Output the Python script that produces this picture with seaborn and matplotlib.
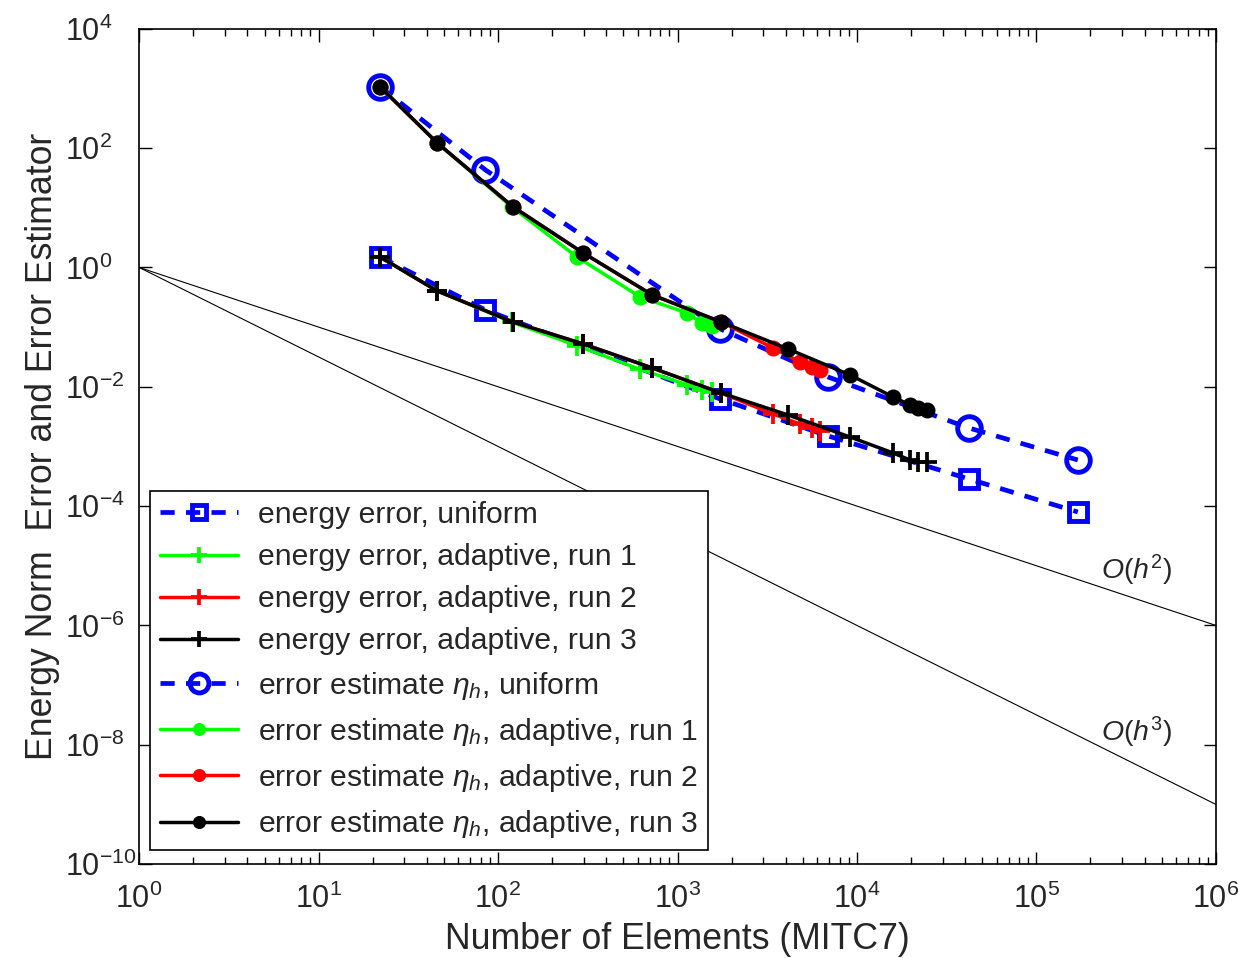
import numpy as np
import matplotlib
matplotlib.use("Agg")
import matplotlib.pyplot as plt
import seaborn as sns
from matplotlib.ticker import FixedLocator, FuncFormatter, NullFormatter

# ---------------- data ----------------
uni_x = [22, 85, 1726, 6890, 42000, 170000]
uni_err = [1.5, 0.194, 0.00625, 0.0015, 2.85e-4, 7.97e-5]
uni_est = [1066, 43.2, 0.0933, 0.0146, 0.00204, 5.93e-4]

run1_x = [22, 45.7, 120, 275, 620, 1130, 1370, 1560]
run1_err = [1.5, 0.405, 0.12, 0.049, 0.0195, 0.0108, 0.0088, 0.0081]
run1_est = [1066, 123, 10.2, 1.5, 0.32, 0.173, 0.117, 0.104]

run2_x = [22, 45.7, 121, 298, 722, 1746, 3405, 4810, 5615, 6220]
run2_err = [1.5, 0.405, 0.122, 0.0523, 0.0207, 0.00788, 0.0035, 0.00238, 0.00204, 0.00182]
run2_est = [1066, 123, 10.4, 1.75, 0.347, 0.122, 0.0448, 0.026, 0.0215, 0.0192]

run3_x = [22, 45.7, 121, 298, 722, 1746, 4126, 9140, 15870, 19720, 21870, 24530]
run3_err = [1.5, 0.405, 0.122, 0.0523, 0.0207, 0.00788, 0.00337, 0.00144, 7.78e-4, 5.93e-4, 5.49e-4, 5.4e-4]
run3_est = [1066, 123, 10.4, 1.75, 0.347, 0.122, 0.043, 0.0158, 0.00676, 0.00496, 0.00442, 0.00409]

ref_x = [1, 1e6]
ref_h2 = [1, 1e-6]
ref_h3 = [1, 1e-9]

x_ticks = [1, 10, 100, 1e3, 1e4, 1e5, 1e6]
y_ticks = [1e-10, 1e-8, 1e-6, 1e-4, 1e-2, 1, 1e2, 1e4]

labels = [
    "energy error, uniform",
    "energy error, adaptive, run 1",
    "energy error, adaptive, run 2",
    "energy error, adaptive, run 3",
    r"error estimate $\eta_h$, uniform",
    r"error estimate $\eta_h$, adaptive, run 1",
    r"error estimate $\eta_h$, adaptive, run 2",
    r"error estimate $\eta_h$, adaptive, run 3",
]

# ---------------- style ----------------
sns.set_style("white")
plt.rcParams["font.family"] = ["Liberation Sans", "DejaVu Sans"]
plt.rcParams["mathtext.fontset"] = "custom"
plt.rcParams["mathtext.rm"] = "Liberation Sans"
plt.rcParams["mathtext.it"] = "Liberation Sans:italic"
plt.rcParams["mathtext.bf"] = "Liberation Sans:bold"

fig = plt.figure(figsize=(12.42, 9.58), dpi=100)
ax = fig.add_axes([0.112, 0.098, 0.867, 0.872])

blue = "#0000ff"
green = "#00ff00"
red = "#ff0000"
black = "#000000"
dash = (0, (3.0, 2.4))

def plus(c):
    return dict(color=c, linestyle="-", linewidth=2.5, marker="+", markersize=15,
                markeredgewidth=2.7, markeredgecolor=c, markerfacecolor=c)

def dot(c):
    return dict(color=c, linestyle="-", linewidth=2.5, marker="o", markersize=10.5,
                markerfacecolor=c, markeredgecolor=c, markeredgewidth=1)

series = [
    (uni_x, uni_err, dict(color=blue, linestyle=dash, linewidth=3.4, marker="s", markersize=13,
                          markerfacecolor="none", markeredgecolor=blue, markeredgewidth=3.5)),
    (run1_x, run1_err, plus(green)),
    (run2_x, run2_err, plus(red)),
    (run3_x, run3_err, plus(black)),
    (uni_x, uni_est, dict(color=blue, linestyle=dash, linewidth=3.4, marker="o", markersize=17,
                          markerfacecolor="none", markeredgecolor=blue, markeredgewidth=3.5)),
    (run1_x, run1_est, dot(green)),
    (run2_x, run2_est, dot(red)),
    (run3_x, run3_est, dot(black)),
]

handles = []
for (xs, ys, kw), lab in zip(series, labels):
    sns.lineplot(x=xs, y=ys, ax=ax, estimator=None, sort=False, label=lab, **kw)
    handles.append(ax.lines[-1])

# reference slopes
sns.lineplot(x=ref_x, y=ref_h2, ax=ax, color="black", linewidth=0.8, estimator=None, legend=False)
sns.lineplot(x=ref_x, y=ref_h3, ax=ax, color="black", linewidth=0.8, estimator=None, legend=False)

ax.set_xscale("log")
ax.set_yscale("log")
ax.set_xlim(1, 1e6)
ax.set_ylim(1e-10, 1e4)

ax.text(3.6e5, 10 ** -5.07, r"$O(h^2)$", fontsize=20.5, ha="center", va="center")
ax.text(3.6e5, 10 ** -7.79, r"$O(h^3)$", fontsize=20.5, ha="center", va="center")

# ticks
minor_x = [m * 10 ** e for e in range(0, 6) for m in range(2, 10)]
ax.xaxis.set_major_locator(FixedLocator(x_ticks))
ax.xaxis.set_minor_locator(FixedLocator(minor_x))
ax.xaxis.set_minor_formatter(NullFormatter())
ax.yaxis.set_major_locator(FixedLocator(y_ticks))
ax.yaxis.set_minor_locator(FixedLocator([]))
fmt = FuncFormatter(lambda v, p: r"$10^{%d}$" % round(np.log10(v)))
ax.xaxis.set_major_formatter(fmt)
ax.yaxis.set_major_formatter(fmt)
ax.tick_params(which="both", direction="in", top=True, right=True, bottom=True, left=True,
               color="black", width=1.0)
ax.tick_params(which="major", length=9, labelsize=22)
ax.tick_params(axis="x", which="major", pad=14)
ax.tick_params(axis="y", which="major", pad=53)
ax.tick_params(which="minor", length=5)
for lab in ax.get_yticklabels():
    lab.set_horizontalalignment("left")
for s in ax.spines.values():
    s.set_color("black")
    s.set_linewidth(1.2)

ax.set_xlabel("Number of Elements (MITC7)", fontsize=25.7, labelpad=5)
ax.set_ylabel("Energy Norm  Error and Error Estimator", fontsize=25.7, labelpad=4)

leg = ax.legend(handles=handles, labels=labels, loc="lower left",
                bbox_to_anchor=(0.0102, 0.0168), borderaxespad=0, fontsize=21.7,
                frameon=True, fancybox=False, edgecolor="black", framealpha=1,
                handlelength=2.6, handletextpad=0.66, labelspacing=0.47,
                borderpad=0.33, markerscale=0.8)
leg.get_frame().set_linewidth(1.2)

fig.savefig("out.png", dpi=100)
